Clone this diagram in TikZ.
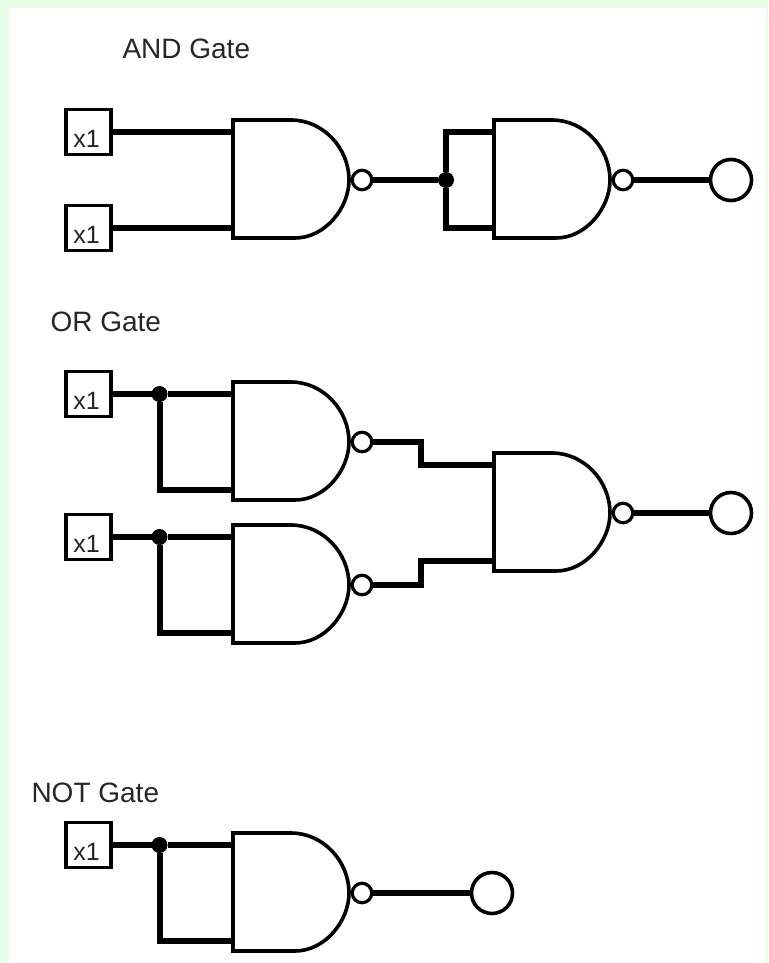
\documentclass[tikz,border=0pt]{standalone}
\usepackage{fontspec}
\setmainfont{Liberation Sans}
\definecolor{pagegreen}{RGB}{230,255,230}
\tikzset{
  x=1pt,y=-1pt,
  wire/.style={line width=6pt,line join=miter,line cap=butt},
  gateline/.style={line width=3.6pt,line join=miter},
  inbox/.style={draw,fill=white,line width=3.8pt,rectangle,minimum width=45pt,minimum height=45pt,inner sep=0pt,outer sep=0pt,
     font=\fontsize{25}{27}\selectfont,text opacity=.85},
  bubble/.style={draw,fill=white,circle,line width=3.2pt,minimum size=19.5pt,inner sep=0pt,outer sep=0pt},
  outcircle/.style={draw,fill=white,circle,line width=3.6pt,minimum size=41pt,inner sep=0pt,outer sep=0pt},
  junction/.style={fill=black,circle,minimum size=16pt,inner sep=0pt,outer sep=0pt},
  title/.style={anchor=base west,inner sep=0pt,outer sep=0pt,font=\fontsize{28}{30}\selectfont,text opacity=.85},
  nand/.pic={
    \draw[gateline,fill=white] (0,0) -- (58,0) .. controls (90,0) and (116,28) .. (116,60)
       .. controls (116,88) and (92,118) .. (62,118) -- (0,118) -- cycle;
    \coordinate (-in1) at (0,12);
    \coordinate (-in2) at (0,108);
    \node[bubble] (-bub) at (129,60) {};
  }
}
\newcommand{\boxtext}{\hspace*{-4pt}\smash{\raisebox{-15pt}{x1}}}
\begin{document}
\begin{tikzpicture}
\useasboundingbox (0,0) rectangle (768,963);
\fill[pagegreen] (0,0) rectangle (768,963);
\fill[white] (9,8) rectangle (766,963);

% titles
\node[title] (tand) at (122.5,59) {AND Gate};
\node[title] (tor) at (50.5,331) {OR Gate};
\node[title] (tnot) at (31.5,802) {NOT Gate};

% AND section
\pic (a1) at (233,120) {nand};
\pic (a2) at (494,120) {nand};
\node[inbox] (ax1) at (88.5,132) {\boxtext};
\node[inbox] (ax2) at (88.5,228) {\boxtext};
\node[outcircle] (aout) at (731,180) {};
\node[junction] (aj) at (446,180) {};
\draw[wire] (ax1.east) -- (a1-in1);
\draw[wire] (ax2.east) -- (a1-in2);
\draw[wire] (a1-bub.east) -- (aj);
\draw[wire] (a2-in1) -| (aj);
\draw[wire] (a2-in2) -| (aj);
\draw[wire] (a2-bub.east) -- (aout.west);

% OR section
\pic (o1) at (233,382) {nand};
\pic (o2) at (233,525) {nand};
\pic (o3) at (494,453) {nand};
\node[inbox] (ox1) at (88.5,394) {\boxtext};
\node[inbox] (ox2) at (88.5,537) {\boxtext};
\node[outcircle] (oout) at (731,513) {};
\node[junction] (oj1) at (159.5,394) {};
\node[junction] (oj2) at (159.5,537) {};
\draw[wire] (ox1.east) -- (oj1) -- (o1-in1);
\draw[wire] (ox2.east) -- (oj2) -- (o2-in1);
\draw[wire] (oj1) |- (o1-in2);
\draw[wire] (oj2) |- (o2-in2);
\draw[wire] (o1-bub.east) -- ++(49,0) |- (o3-in1);
\draw[wire] (o2-bub.east) -- ++(49,0) |- (o3-in2);
\draw[wire] (o3-bub.east) -- (oout.west);

% NOT section
\pic (n1) at (233,833) {nand};
\node[inbox] (nx1) at (88.5,845) {\boxtext};
\node[outcircle] (nout) at (492,893) {};
\node[junction] (nj) at (159.5,845) {};
\draw[wire] (nx1.east) -- (nj) -- (n1-in1);
\draw[wire] (nj) |- (n1-in2);
\draw[wire] (n1-bub.east) -- (nout.west);
\end{tikzpicture}
\end{document}
